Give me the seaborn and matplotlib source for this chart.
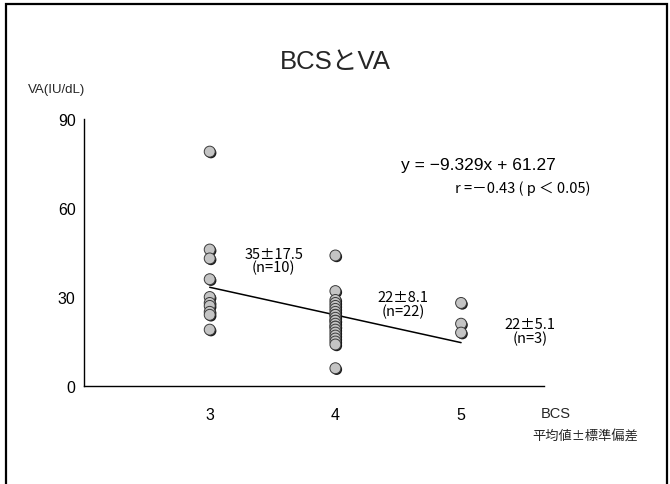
import matplotlib
matplotlib.use("Agg")
import matplotlib.pyplot as plt
import matplotlib.patheffects as pe
from matplotlib.patches import Rectangle
import numpy as np
import pandas as pd
import seaborn as sns

# VA concentration (IU/dL) by body condition score
bcs3_va = [79, 46, 43, 36, 30, 28, 27, 25, 24, 19]
bcs4_va = [44, 32, 29, 28, 27, 26, 25, 24, 24, 23, 22, 22, 21, 20, 20, 19,
           18, 17, 16, 15, 14, 6]
bcs5_va = [28, 21, 18]
bcs_levels = [3, 4, 5]

# regression y = slope * x + intercept
slope = -9.329
intercept = 61.27
fit_x = [3, 5]

group_stats = ["35\u00b117.5\n(n=10)", "22\u00b18.1\n(n=22)", "22\u00b15.1\n(n=3)"]
y_ticks = [0, 30, 60, 90]

df = pd.DataFrame({
    "BCS": [3] * len(bcs3_va) + [4] * len(bcs4_va) + [5] * len(bcs5_va),
    "VA": bcs3_va + bcs4_va + bcs5_va,
})
fit_df = pd.DataFrame({"BCS": fit_x, "VA": [slope * x + intercept for x in fit_x]})

sns.set_theme(style="white")
latin_first = ["Liberation Sans", "Noto Sans CJK JP", "DejaVu Sans"]
cjk_first = ["Noto Sans CJK JP", "DejaVu Sans"]
plt.rcParams["font.family"] = latin_first

fig = plt.figure(figsize=(6.7, 4.85), dpi=100)
ax = fig.add_axes([0.1254, 0.202, 0.812 - 0.1254, 0.7526 - 0.202])

sns.lineplot(data=fit_df, x="BCS", y="VA", ax=ax, color="black", linewidth=1.1)
sns.scatterplot(data=df, x="BCS", y="VA", ax=ax, s=62, color="#c4c4c4",
                edgecolor="#3a3a3a", linewidth=0.7, zorder=3,
                path_effects=[pe.SimplePatchShadow(offset=(0.9, -0.9),
                                                   shadow_rgbFace="black",
                                                   alpha=0.9),
                              pe.Normal()])

ax.set_xlim(2, 5.66)
ax.set_ylim(0, 90)
ax.set_xticks(bcs_levels)
ax.set_yticks(y_ticks)
ax.set_xlabel("")
ax.set_ylabel("")
for side in ["top", "right"]:
    ax.spines[side].set_visible(False)
for side in ["left", "bottom"]:
    ax.spines[side].set_color("black")
    ax.spines[side].set_linewidth(1.0)
ax.tick_params(axis="x", direction="in", length=5, width=1, pad=15,
               labelsize=11.5, colors="black")
ax.tick_params(axis="y", direction="in", length=5, width=1, pad=6,
               labelsize=11.5, colors="black")

# group mean ± SD labels
stat_pos = [(3.51, 42.3), (4.54, 27.6), (5.55, 18.4)]
for (sx, sy), txt in zip(stat_pos, group_stats):
    ax.text(sx, sy, txt, ha="center", va="center", fontsize=10.5,
            linespacing=0.95, color="black", family=cjk_first)

ax.text(5.14, 74.5, "y = \u22129.329x + 61.27", ha="center", va="center",
        fontsize=12.5, color="black")
ax.text(5.49, 67.0, "r =\uff0d0.43 ( p \uff1c 0.05)", ha="center", va="center",
        fontsize=10.5, color="black", family=cjk_first)

fig.text(0.5, 1 - 62 / 485, "BCSとVA", ha="center", va="center", fontsize=18.5)
fig.text(28 / 670, 1 - 90 / 485, "VA(IU/dL)", ha="left", va="center", fontsize=9.5)
fig.text(556 / 670, 1 - 414 / 485, "BCS", ha="center", va="center", fontsize=10.5)
fig.text(638 / 670, 1 - 437 / 485, "平均値\u00b1標準偏差", ha="right", va="center",
         fontsize=9.5, family=cjk_first)

# frame around the figure
fig.patches.append(Rectangle((5.5 / 670, -0.05), (667 - 5.5) / 670, 1.05 - 4.5 / 485,
                             transform=fig.transFigure, fill=False,
                             edgecolor="black", linewidth=1.6))

fig.savefig("out.png", dpi=100)
